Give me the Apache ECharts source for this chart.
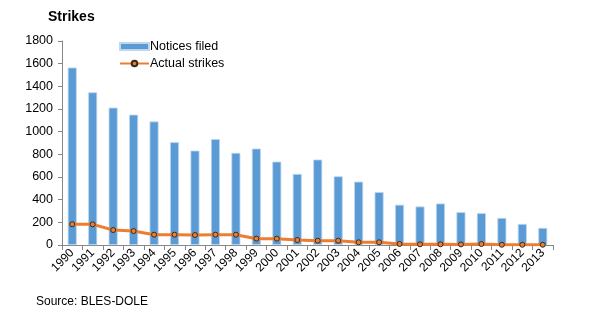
<!DOCTYPE html>
<html>
<head>
<meta charset="utf-8">
<script src="https://cdn.jsdelivr.net/npm/echarts@6/dist/echarts.min.js"></script>
<style>
  html, body { margin: 0; padding: 0; background: #fff; }
  #chart { width: 597px; height: 325px; }
</style>
</head>
<body>
<div id="chart"></div>
<script>
// Strike notices filed vs. actual strikes, 1990-2013
const years = ['1990','1991','1992','1993','1994','1995','1996','1997','1998','1999','2000','2001',
               '2002','2003','2004','2005','2006','2007','2008','2009','2010','2011','2012','2013'];
const noticesFiled = [1566, 1347, 1212, 1150, 1090, 907, 833, 934, 813, 851, 736, 627,
                      754, 606, 559, 467, 355, 340, 366, 290, 281, 239, 186, 151];
const actualStrikes = [183, 182, 132, 123, 91, 91, 88, 91, 91, 56, 56, 44,
                       38, 38, 24, 24, 9, 6, 6, 5, 8, 2, 2, 2];
const yTicks = { min: 0, max: 1800, interval: 200 };

const font = 'Liberation Sans, Arial, sans-serif';
const axisGray = '#868686';

const chart = echarts.init(document.getElementById('chart'), null, { renderer: 'canvas' });
chart.setOption({
  animation: false,
  title: {
    text: 'Strikes',
    left: 43, top: 5,
    textStyle: { fontFamily: font, fontSize: 14, fontWeight: 'bold', color: '#000' }
  },
  graphic: [{
    type: 'text', left: 36, top: 296,
    style: { text: 'Source: BLES-DOLE', fontFamily: font, fontSize: 12, fill: '#000' }
  }],
  legend: {
    orient: 'vertical',
    left: 114, top: 35,
    itemWidth: 29, itemHeight: 7, itemGap: 4,
    textStyle: { fontFamily: font, fontSize: 12.5, color: '#000', padding: [0, 0, 0, -4] },
    data: [
      { name: 'Notices filed', icon: 'rect' },
      { name: 'Actual strikes' }
    ]
  },
  grid: { left: 62, right: 44, top: 41, bottom: 80, containLabel: false },
  xAxis: {
    type: 'category',
    data: years,
    axisLine: { lineStyle: { color: axisGray, width: 1 } },
    axisTick: { show: true, alignWithLabel: false, length: 5, lineStyle: { color: axisGray } },
    axisLabel: { rotate: 45, interval: 0, fontFamily: font, fontSize: 12, color: '#000', margin: 6 }
  },
  yAxis: {
    type: 'value',
    min: yTicks.min, max: yTicks.max, interval: yTicks.interval,
    axisLine: { show: true, lineStyle: { color: axisGray, width: 1 } },
    axisTick: { show: true, length: 4, lineStyle: { color: axisGray } },
    splitLine: { show: false },
    axisLabel: { fontFamily: font, fontSize: 12.5, color: '#000', margin: 9,
                 formatter: v => String(v) }
  },
  series: [
    {
      name: 'Notices filed',
      type: 'bar',
      data: noticesFiled,
      barWidth: 9,
      itemStyle: { color: '#5B9BD5', borderColor: '#BDD7EE', borderWidth: 0.8 }
    },
    {
      name: 'Actual strikes',
      type: 'line',
      data: actualStrikes,
      symbol: 'circle',
      symbolSize: 5,
      lineStyle: { color: '#ED7D31', width: 3 },
      itemStyle: { color: '#ED7D31', borderColor: '#3a2a1a', borderWidth: 1 }
    }
  ]
});
</script>
</body>
</html>
